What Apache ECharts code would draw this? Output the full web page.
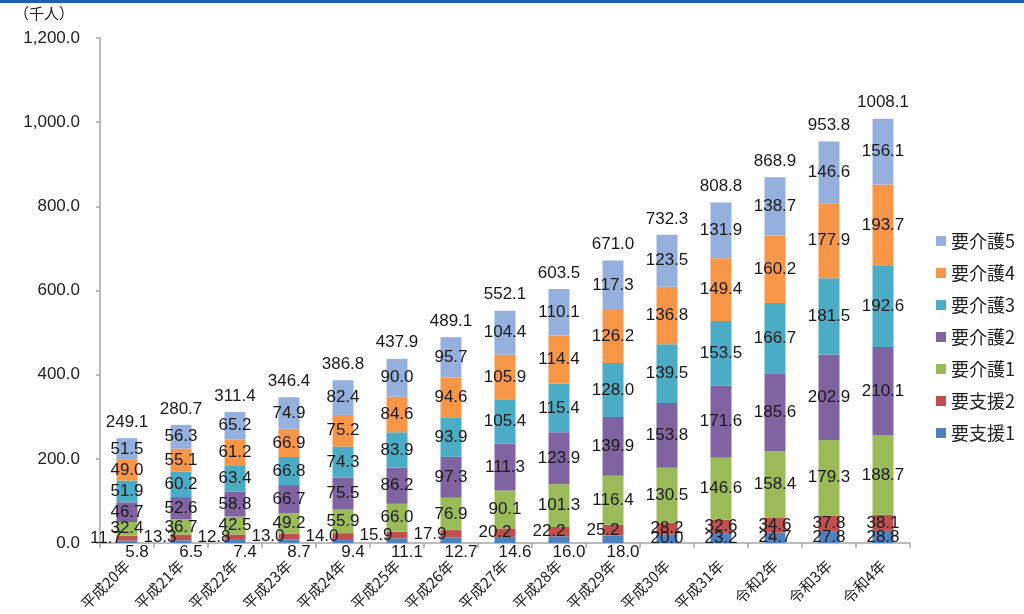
<!DOCTYPE html>
<html>
<head>
<meta charset="utf-8">
<script src="https://cdn.jsdelivr.net/npm/echarts@6/dist/echarts.min.js"></script>
<style>
html,body{margin:0;padding:0;background:#fff;}
#chart{width:1024px;height:614px;}
</style>
</head>
<body>
<div id="chart"></div>
<script>
const categories = ['平成20年','平成21年','平成22年','平成23年','平成24年','平成25年','平成26年','平成27年','平成28年','平成29年','平成30年','平成31年','令和2年','令和3年','令和4年'];
const seriesNames = ['要支援1','要支援2','要介護1','要介護2','要介護3','要介護4','要介護5'];
const shien1 = [5.8, 6.5, 7.4, 8.7, 9.4, 11.1, 12.7, 14.6, 16.0, 18.0, 20.0, 23.2, 24.7, 27.8, 28.8];
const shien2 = [11.7, 13.3, 12.8, 13.0, 14.0, 15.9, 17.9, 20.2, 22.2, 25.2, 28.2, 32.6, 34.6, 37.8, 38.1];
const kaigo1 = [32.4, 36.7, 42.5, 49.2, 55.9, 66.0, 76.9, 90.1, 101.3, 116.4, 130.5, 146.6, 158.4, 179.3, 188.7];
const kaigo2 = [46.7, 52.6, 58.8, 66.7, 75.5, 86.2, 97.3, 111.3, 123.9, 139.9, 153.8, 171.6, 185.6, 202.9, 210.1];
const kaigo3 = [51.9, 60.2, 63.4, 66.8, 74.3, 83.9, 93.9, 105.4, 115.4, 128.0, 139.5, 153.5, 166.7, 181.5, 192.6];
const kaigo4 = [49.0, 55.1, 61.2, 66.9, 75.2, 84.6, 94.6, 105.9, 114.4, 126.2, 136.8, 149.4, 160.2, 177.9, 193.7];
const kaigo5 = [51.5, 56.3, 65.2, 74.9, 82.4, 90.0, 95.7, 104.4, 110.1, 117.3, 123.5, 131.9, 138.7, 146.6, 156.1];
const totals = [249.1, 280.7, 311.4, 346.4, 386.8, 437.9, 489.1, 552.1, 603.5, 671.0, 732.3, 808.8, 868.9, 953.8, 1008.1];
const yMin = 0, yMax = 1200, yStep = 200;

const colors = ['#4F81BD','#C0504D','#9BBB59','#8064A2','#4BACC6','#F79646','#95B0DC'];
const numFont = '"Liberation Sans", Arial, "Noto Sans CJK JP", sans-serif';
const cjkFont = '"Noto Sans CJK JP", "Liberation Sans", sans-serif';

const values = [shien1, shien2, kaigo1, kaigo2, kaigo3, kaigo4, kaigo5];

function fmtAxis(v){
  const s = v.toFixed(1);
  const parts = s.split('.');
  parts[0] = parts[0].replace(/\B(?=(\d{3})+(?!\d))/g, ',');
  return parts.join('.');
}

function dataFor(si){
  const arr = values[si];
  return arr.map(v => {
    if (si === 0 && v < 20) {
      return {value: v, label: {position: 'bottom', distance: 1, offset: [10, 0]}};
    }
    if (si === 1 && v < 20) {
      return {value: v, label: {offset: [-21, 0]}};
    }
    if (si === 1 && v < 26) {
      return {value: v, label: {offset: [-10, 0]}};
    }
    return v;
  });
}

const labelStyle = {
  show: true,
  position: 'inside',
  color: '#1a1a1a',
  fontSize: 17,
  fontFamily: numFont,
  textBorderWidth: 0,
  formatter: p => Number(p.value).toFixed(1)
};

const series = seriesNames.map((name, si) => ({
  name: name,
  type: 'bar',
  stack: 'total',
  barWidth: 21,
  itemStyle: {color: colors[si]},
  label: labelStyle,
  data: dataFor(si)
}));

series.push({
  name: '合計',
  type: 'line',
  data: totals,
  symbol: 'circle',
  symbolSize: 1,
  itemStyle: {color: 'rgba(0,0,0,0)'},
  lineStyle: {opacity: 0},
  silent: true,
  z: 10,
  label: {
    show: true,
    position: 'top',
    distance: 7,
    color: '#1a1a1a',
    fontSize: 17,
    fontFamily: numFont,
    formatter: p => Number(p.value).toFixed(1)
  }
});

const chart = echarts.init(document.getElementById('chart'), null, {renderer: 'canvas'});
chart.setOption({
  animation: false,
  backgroundColor: '#ffffff',
  grid: {left: 100, right: 114, top: 38, bottom: 71, containLabel: false},
  legend: {
    orient: 'vertical',
    left: 931,
    top: 227,
    itemWidth: 10,
    itemHeight: 10,
    itemGap: 14,
    icon: 'rect',
    data: seriesNames.slice().reverse(),
    textStyle: {fontSize: 18, lineHeight: 18, color: '#222', fontFamily: cjkFont}
  },
  xAxis: {
    type: 'category',
    data: categories,
    axisLine: {show: true, lineStyle: {color: '#a6a6a6', width: 1.5}},
    axisTick: {show: true, length: 5, alignWithLabel: false, lineStyle: {color: '#a6a6a6', width: 1.5}},
    axisLabel: {rotate: 45, interval: 0, margin: 20, fontSize: 15, color: '#222', fontFamily: cjkFont}
  },
  yAxis: {
    type: 'value',
    min: yMin,
    max: yMax,
    interval: yStep,
    axisLine: {show: true, lineStyle: {color: '#a6a6a6', width: 1.5}},
    axisTick: {show: true, length: 4, lineStyle: {color: '#a6a6a6', width: 1.5}},
    splitLine: {show: false},
    axisLabel: {margin: 20, fontSize: 17, color: '#222', fontFamily: numFont, formatter: v => fmtAxis(v)}
  },
  graphic: [
    {type: 'rect', left: 0, top: 0, shape: {width: 1024, height: 3}, style: {fill: '#1f5fb0'}},
    {type: 'text', left: 14, top: 6, style: {text: '（千人）', fontSize: 15, fontFamily: 'Noto Sans CJK JP', fill: '#222'}}
  ],
  series: series
});
</script>
</body>
</html>
